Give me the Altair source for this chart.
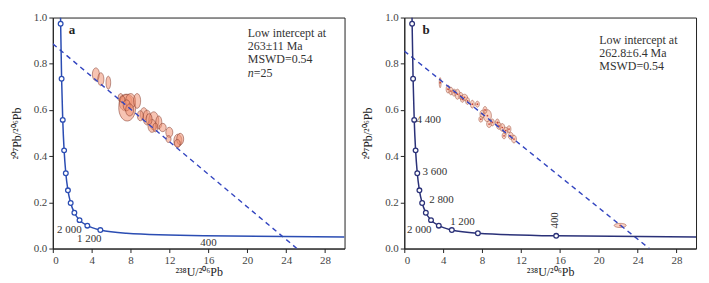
import altair as alt
import pandas as pd

W, H = 293, 232
XMAX = 30.0
SERIF = "Liberation Serif"

# concordia points (Ma, 238U/206Pb, 207Pb/206Pb)
ages = [5200, 4800, 4400, 4000, 3600, 3200, 2800, 2400, 2000, 1600, 1200, 800, 400]
conc_x = [0.806, 0.905, 1.022, 1.163, 1.337, 1.556, 1.838, 2.217, 2.749, 3.550, 4.888, 7.568, 15.62]
conc_y = [0.973, 0.735, 0.557, 0.425, 0.326, 0.252, 0.197, 0.155, 0.123, 0.099, 0.080, 0.066, 0.055]
curve_start = (0.797, 1.0)
curve_end = (30.0, 0.050)

# discordia intercepts
disc_a = ([0.0, 25.1], [0.886, 0.0])
disc_b = ([0.0, 25.2], [0.855, 0.0])

# panel a ellipses: centre x, centre y, half-width (x units), half-height (y units)
a_x = [4.43, 4.94, 5.71, 6.98, 7.49, 7.65, 8.0, 8.67, 9.36, 9.69, 10.38, 10.2, 10.9,
       11.3, 11.98, 11.9, 12.86, 13.1, 7.14, 9.0, 10.55, 7.6, 9.9, 12.8, 7.9]
a_y = [0.754, 0.733, 0.718, 0.653, 0.632, 0.61, 0.639, 0.639, 0.582, 0.567, 0.553, 0.531, 0.546,
       0.524, 0.503, 0.474, 0.467, 0.474, 0.646, 0.575, 0.524, 0.62, 0.56, 0.455, 0.60]
a_ex = [0.36, 0.31, 0.24, 0.26, 0.66, 0.87, 0.51, 0.36, 0.36, 0.41, 0.51, 0.41, 0.31,
        0.36, 0.36, 0.26, 0.41, 0.36, 0.26, 0.31, 0.26, 0.36, 0.31, 0.31, 0.41]
a_ey = [0.028, 0.028, 0.028, 0.018, 0.036, 0.058, 0.032, 0.032, 0.028, 0.032, 0.039, 0.028, 0.028,
        0.018, 0.022, 0.015, 0.028, 0.025, 0.015, 0.022, 0.019, 0.024, 0.024, 0.017, 0.026]

# panel b ellipses
b_x = [3.69, 4.5, 4.79, 5.13, 5.47, 5.81, 5.98, 6.5, 7.0, 7.52, 8.03, 7.87, 8.55, 8.72, 9.06,
       9.57, 9.74, 10.08, 10.43, 10.77, 10.26, 10.94, 11.28, 8.3, 6.2, 22.2]
b_y = [0.718, 0.69, 0.682, 0.675, 0.668, 0.661, 0.646, 0.639, 0.625, 0.625, 0.582, 0.56, 0.575,
       0.539, 0.546, 0.546, 0.531, 0.524, 0.51, 0.517, 0.488, 0.488, 0.474, 0.60, 0.655, 0.100]
b_ex = [0.10, 0.20, 0.20, 0.25, 0.25, 0.20, 0.20, 0.20, 0.20, 0.20, 0.25, 0.20, 0.41, 0.25, 0.20,
        0.20, 0.25, 0.25, 0.25, 0.20, 0.20, 0.25, 0.25, 0.20, 0.30, 0.62]
b_ey = [0.022, 0.017, 0.017, 0.015, 0.022, 0.015, 0.013, 0.015, 0.017, 0.013, 0.017, 0.013, 0.026,
        0.015, 0.015, 0.015, 0.015, 0.017, 0.015, 0.015, 0.013, 0.015, 0.017, 0.015, 0.013, 0.009]

# age labels
a_lab_text = ["2 000", "1 200", "400"]
a_lab_x = [1.7, 3.75, 16.0]
a_lab_y = [0.082, 0.040, 0.026]

b_lab_left_text = ["4 400", "3 600", "2 800"]
b_lab_left_x = [1.25, 1.88, 2.56]
b_lab_left_y = [0.557, 0.330, 0.211]
b_lab_mid_text = ["2 000", "1 200"]
b_lab_mid_x = [1.54, 5.98]
b_lab_mid_y = [0.079, 0.115]
b_lab_rot_text = ["400"]
b_lab_rot_x = [15.55]
b_lab_rot_y = [0.122]

note_a = ["Low intercept at", "263\u00b111 Ma", "MSWD=0.54"]
note_b = ["Low intercept at", "262.8\u00b16.4 Ma", "MSWD=0.54"]

K = 0.5523


def ellipse_path(a):
    return (f"M0,-1C{K*a:.4f},-1 {a:.4f},{-K} {a:.4f},0"
            f"C{a:.4f},{K} {K*a:.4f},1 0,1"
            f"C{-K*a:.4f},1 {-a:.4f},{K} {-a:.4f},0"
            f"C{-a:.4f},{-K} {-K*a:.4f},-1 0,-1Z")


def ell_df(xs, ys, exs, eys):
    df = pd.DataFrame({"x": xs, "y": ys, "ex": exs, "ey": eys})
    df["shape"] = [ellipse_path((ex * W / XMAX) / (ey * H)) for ex, ey in zip(exs, eys)]
    return df


xs = alt.Scale(domain=[0, XMAX], nice=False, zero=False)
ys = alt.Scale(domain=[0, 1.0], nice=False, zero=False)

x_axis = alt.Axis(values=list(range(0, 30, 4)), title="\u00b2\u00b3\u2078U/\u00b2\u2070\u2076Pb",
                  titlePadding=1)
y_axis = alt.Axis(values=[0, 0.2, 0.4, 0.6, 0.8, 1.0], format=".1f",
                  title="\u00b2\u2070\u2077Pb/\u00b2\u2070\u2076Pb", titlePadding=10)


def X(field="x"):
    return alt.X(f"{field}:Q", scale=xs, axis=x_axis)


def Y(field="y"):
    return alt.Y(f"{field}:Q", scale=ys, axis=y_axis)


def panel(ell, fill, stroke, fop, line_color, n_circles, disc, letter, note, note_top, texts, dots):
    curve = pd.DataFrame({"x": [curve_start[0]] + conc_x + [curve_end[0]],
                          "y": [curve_start[1]] + conc_y + [curve_end[1]]})
    circ = pd.DataFrame({"x": conc_x[:n_circles], "y": conc_y[:n_circles], "age": ages[:n_circles]})
    dd = pd.DataFrame({"x": disc[0], "y": disc[1]})

    layers = []
    layers.append(alt.Chart(ell).mark_point(filled=True, fill=fill, fillOpacity=fop, stroke=stroke,
                                             strokeWidth=0.6, strokeOpacity=0.85, opacity=1).encode(
        x=X(), y=Y(),
        shape=alt.Shape("shape:N", scale=None, legend=None),
        size=alt.Size("ey:Q", scale=alt.Scale(type="pow", exponent=2, domain=[0, 0.5], range=[0, H * H]),
                      legend=None)))
    if dots:
        layers.append(alt.Chart(ell).mark_point(filled=True, color="#c23a2a", size=3, opacity=0.9).encode(
            x=X(), y=Y()))
    layers.append(alt.Chart(dd).mark_line(color="#3446c0", strokeDash=[5, 4], strokeWidth=1.4, clip=True).encode(
        x=X(), y=Y()))
    layers.append(alt.Chart(curve).mark_line(color=line_color, strokeWidth=1.5, interpolate="monotone",
                                             clip=True).encode(x=X(), y=Y()))
    layers.append(alt.Chart(circ).mark_point(filled=True, fill="white", stroke=line_color, strokeWidth=1.3,
                                             size=22, opacity=1, shape="circle").encode(x=X(), y=Y()))
    for (tx, txx, tyy, align, angle) in texts:
        tdf = pd.DataFrame({"x": txx, "y": tyy, "t": tx})
        kw = dict(font=SERIF, fontSize=11, color="#333", align=align, baseline="middle")
        if angle:
            kw["angle"] = angle
        layers.append(alt.Chart(tdf).mark_text(**kw).encode(x=X(), y=Y(), text="t:N"))
    ldf = pd.DataFrame({"x": [letter[1]], "y": [0.944], "t": [letter[0]]})
    layers.append(alt.Chart(ldf).mark_text(font=SERIF, fontSize=13, fontWeight="bold", color="#222",
                                           align="left", baseline="middle").encode(x=X(), y=Y(), text="t:N"))
    ndf = pd.DataFrame({"x": [20.05], "y": [note_top]})
    layers.append(alt.Chart(ndf).mark_text(text=note, font=SERIF, fontSize=12, lineHeight=12.8, color="#333",
                                           align="left", baseline="top").encode(x=X(), y=Y()))
    return alt.layer(*layers).properties(width=W, height=H)


ell_a = ell_df(a_x, a_y, a_ex, a_ey)
ell_b = ell_df(b_x, b_y, b_ex, b_ey)

pa = panel(ell_a, "#f19474", "#7d3426", 0.55, "#2b4db3", 11, disc_a, ("a", 1.63), note_a, 0.954,
           [(a_lab_text, a_lab_x, a_lab_y, "center", 0)], False)

# italic n=25 line for panel a
ndf2 = pd.DataFrame({"x": [20.05], "y": [0.7607]})
n_it = alt.Chart(ndf2).mark_text(text="n", font=SERIF, fontSize=12, fontStyle="italic", color="#333",
                                  align="left", baseline="middle").encode(x=X(), y=Y())
n_rest = alt.Chart(ndf2).mark_text(text="=25", font=SERIF, fontSize=12, color="#333", dx=6,
                                    align="left", baseline="middle").encode(x=X(), y=Y())
pa = alt.layer(pa, n_it, n_rest).properties(width=W, height=H)

pb = panel(ell_b, "#f5b49c", "#9a4a36", 0.6, "#2a3178", 13, disc_b, ("b", 1.88), note_b, 0.924,
           [(b_lab_left_text, b_lab_left_x, b_lab_left_y, "left", 0),
            (b_lab_mid_text, b_lab_mid_x, b_lab_mid_y, "center", 0),
            (b_lab_rot_text, b_lab_rot_x, b_lab_rot_y, "center", 270)], True)

chart = alt.hconcat(pa, pb, spacing=15).properties(
    padding={"left": 1, "top": 2, "right": 4, "bottom": 0},
    background="white"
).configure_view(stroke="#222", strokeWidth=1).configure_axis(
    grid=False, tickSize=4, tickColor="#222", domainColor="#222", domainWidth=1, tickWidth=1,
    labelFont=SERIF, labelFontSize=11, labelColor="#444", labelPadding=2,
    titleFont=SERIF, titleFontSize=12, titleFontWeight="normal", titleColor="#222"
)

chart.save("out.html", embed_options={"renderer": "svg", "actions": False})
